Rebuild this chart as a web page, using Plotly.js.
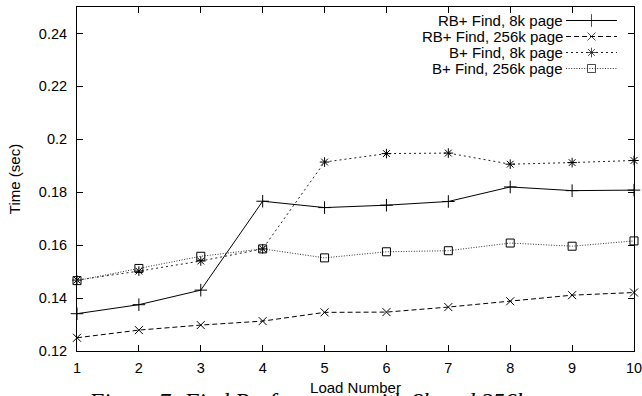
<!DOCTYPE html>
<html>
<head>
<meta charset="utf-8">
<script src="https://cdn.plot.ly/plotly-3.0.1.min.js"></script>
<style>html,body{margin:0;padding:0;background:#fff;}#chart{width:642px;height:396px;}</style>
</head>
<body>
<div id="chart"></div>
<script>
// ---- data ----
var loads = [1, 2, 3, 4, 5, 6, 7, 8, 9, 10];
var rbFind8k   = [0.1341, 0.1375, 0.1430, 0.1766, 0.1742, 0.1751, 0.1765, 0.1820, 0.1806, 0.1808];
var rbFind256k = [0.1250, 0.1279, 0.1298, 0.1313, 0.1346, 0.1347, 0.1366, 0.1388, 0.1411, 0.1421];
var bFind8k    = [0.1468, 0.1502, 0.1540, 0.1586, 0.1914, 0.1946, 0.1948, 0.1906, 0.1912, 0.1920];
var bFind256k  = [0.1466, 0.1512, 0.1558, 0.1586, 0.1552, 0.1575, 0.1579, 0.1608, 0.1596, 0.1616];
var seriesNames = ["RB+ Find, 8k page", "RB+ Find, 256k page", "B+ Find, 8k page", "B+ Find, 256k page"];
var yTicks = [0.12, 0.14, 0.16, 0.18, 0.2, 0.22, 0.24];
var xTitle = "Load Number";
var yTitle = "Time (sec)";
var caption = "Figure 7: Find Performance with 8k and 256k pages";

// ---- styles ----
var seriesValues = [rbFind8k, rbFind256k, bFind8k, bFind256k];
var symbols = ["cross-thin-open", "x-thin-open", "asterisk-open", "square-open"];
var symSizes = [9, 8, 8, 8];
var dashes = ["solid", "5px,3px", "2px,3px", "1px,1.6px"];
var lineColors = ["#000", "#000", "#222", "#333"];
var FONT = "Liberation Sans, Arial, Helvetica, sans-serif";

// plot area in pixels (for key and caption placement)
var L = 77, R = 634, T = 7, B = 351, W = 642, H = 396;
function px(x) { return (x - L) / (R - L); }
function py(y) { return (B - y) / (B - T); }

var traces = seriesValues.map(function (vals, i) {
  return {
    x: loads, y: vals, type: "scatter", mode: "lines+markers",
    name: seriesNames[i], showlegend: false, cliponaxis: false,
    line: { color: lineColors[i], width: 1, dash: dashes[i] },
    marker: { symbol: symbols[i], size: symSizes[i], color: "#000", line: { color: "#000", width: 1 } }
  };
});

// gnuplot-style key: text left, sample right
var keyRows = [20.5, 36.5, 52.5, 68.5];
var keyX0 = 566, keyX1 = 617, keyXm = 591.5, keyText = 565;
var shapes = [];
var annotations = [];
seriesNames.forEach(function (nm, i) {
  shapes.push({ type: "line", xref: "paper", yref: "paper",
    x0: px(keyX0), x1: px(keyX1), y0: py(keyRows[i]), y1: py(keyRows[i]),
    line: { color: lineColors[i], width: 1, dash: dashes[i] } });
  annotations.push({ xref: "paper", yref: "paper", x: px(keyText), y: py(keyRows[i]),
    xanchor: "right", yanchor: "middle", text: nm, showarrow: false,
    font: { family: FONT, size: 15, color: "#000" } });
});
traces.push({
  x: seriesNames.map(function () { return px(keyXm); }),
  y: keyRows.map(function (r) { return py(r); }),
  xaxis: "x2", yaxis: "y2", type: "scatter", mode: "markers", showlegend: false,
  hoverinfo: "skip", cliponaxis: false,
  marker: { symbol: symbols, size: symSizes, color: "#000", line: { color: "#000", width: 1 } }
});

// caption, partly below the bottom edge as in the reference
annotations.unshift({ xref: "paper", yref: "paper", x: px(86), y: py(401),
  xanchor: "left", yanchor: "middle", text: "<i>" + caption + "</i>", showarrow: false,
  font: { family: "Liberation Serif, Times New Roman, serif", size: 23.7, color: "#000" } });

var axisCommon = {
  showgrid: false, zeroline: false, showline: true, linecolor: "#000", linewidth: 1,
  mirror: "ticks", ticks: "inside", ticklen: 6, tickwidth: 1, tickcolor: "#000",
  tickfont: { family: FONT, size: 14.5, color: "#000" }, automargin: false,
  ticklabeloverflow: "allow"
};

var layout = {
  width: W, height: H,
  margin: { l: L, r: W - R, t: T, b: H - B, pad: 0 },
  paper_bgcolor: "#fff", plot_bgcolor: "#fff",
  showlegend: false,
  xaxis: Object.assign({}, axisCommon, {
    range: [1, 10], tickmode: "array", tickvals: loads, ticktext: loads.map(String),
    ticklabelstandoff: 4,
    title: { text: xTitle, standoff: 7, font: { family: FONT, size: 15, color: "#000" } }
  }),
  yaxis: Object.assign({}, axisCommon, {
    range: [0.12, 0.25], tickmode: "array", tickvals: yTicks, ticktext: yTicks.map(String),
    ticklabelstandoff: 6,
    title: { text: yTitle, standoff: 14, font: { family: FONT, size: 15, color: "#000" } }
  }),
  xaxis2: { overlaying: "x", range: [0, 1], visible: false, fixedrange: true },
  yaxis2: { overlaying: "y", range: [0, 1], visible: false, fixedrange: true },
  shapes: shapes,
  annotations: annotations
};

Plotly.newPlot("chart", traces, layout, { staticPlot: true, displayModeBar: false });
</script>
</body>
</html>
